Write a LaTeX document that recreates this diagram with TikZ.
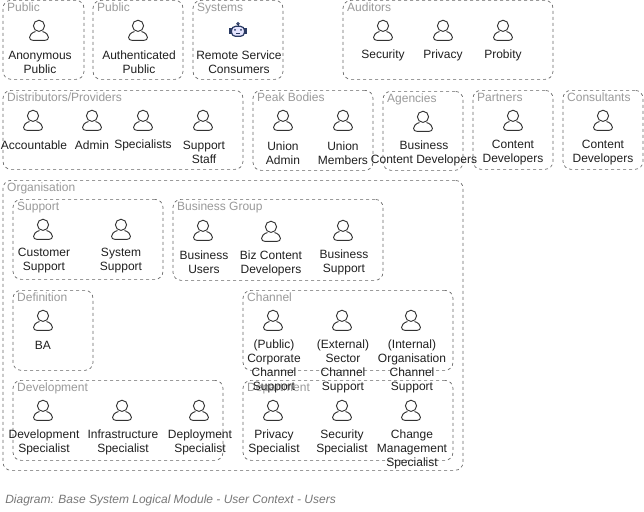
\documentclass[tikz,border=0pt]{standalone}
\usepackage{fontspec}
\setmainfont{Liberation Sans}
\usetikzlibrary{fit}
\definecolor{framegray}{HTML}{666666}
\definecolor{titlegray}{HTML}{999999}
\definecolor{captiongray}{HTML}{777777}
\definecolor{inkgray}{HTML}{333333}
\definecolor{botnavy}{HTML}{2A3A63}

\begin{document}
\begin{tikzpicture}[x=0.75pt, y=-0.75pt,
        group_box/.style 2 args={
                draw=framegray,
                dash pattern=on 2.25pt off 2.25pt,
                line width=0.5pt,
                rounded corners=6pt,
                inner sep=0pt,
                fit={#1},
                label={[anchor=north west, inner sep=0pt, xshift=3.2pt, yshift=-2.1pt, text=titlegray, font=\fontsize{9}{10.5}\selectfont]north west:{#2}}},
        user_text/.style = {
            align = center,
            inner sep=0pt,
            yshift=-0.5pt,
            text=inkgray!60!black,
            font = \fontsize{9}{10.5}\selectfont
        },
        pics/user_icon/.style = {code={
            \draw[inkgray, line width=0.7pt, fill=white] (0,-4.5) circle (5.6);
            \draw[inkgray, line width=0.7pt, line join=round] (-3.5,1.2)
                .. controls (-7,2.2) and (-9.5,4.5) .. (-9.5,7)
                .. controls (-9.5,9) and (-8,10) .. (-6,10) -- (6,10)
                .. controls (8,10) and (9.5,9) .. (9.5,7)
                .. controls (9.5,4.5) and (7,2.2) .. (3.5,1.2);
        }},
        pics/bot_icon/.style = {code={
            \draw[botnavy, line width=0.7pt] (0,-6) -- (0,-4);
            \draw[botnavy, line width=0.7pt, fill=white] (0,-6.5) circle (1.2);
            \fill[botnavy] (-9,-2) rectangle (-6,4);
            \fill[botnavy] (6,-2) rectangle (9,4);
            \draw[botnavy, line width=0.9pt, fill=white!90!blue, rounded corners=3pt] (-6.5,-4) rectangle (6.5,6);
            \fill[botnavy] (-3,-0.5) circle (1);
            \fill[botnavy] (3,-0.5) circle (1);
            \draw[botnavy, line width=0.6pt] (-2,3) -- (2,3);
        }}]

        % outer rows
        \node[group_box={(3,0)(84,79)}{Public}] (public_anon) {};
        \node[group_box={(93,0)(183,79)}{Public}] (public_auth) {};
        \node[group_box={(193,0)(283,79)}{Systems}] (systems) {};
        \node[group_box={(343,0)(553,79)}{Auditors}] (auditors) {};

        \node[group_box={(3,90)(243,169)}{Distributors/Providers}] (distributors) {};
        \node[group_box={(253,90)(373,170)}{Peak Bodies}] (peak_bodies) {};
        \node[group_box={(383,91)(463,170)}{Agencies}] (agencies) {};
        \node[group_box={(473,90)(553,169)}{Partners}] (partners) {};
        \node[group_box={(563,90)(643,169)}{Consultants}] (consultants) {};

        % organisation and its groups
        \node[group_box={(3,180)(463,470)}{Organisation}] (organisation) {};
        \node[group_box={(13,199)(163,279)}{Support}] (support) {};
        \node[group_box={(173,199)(383,280)}{Business Group}] (business_group) {};
        \node[group_box={(13,290)(93,370)}{Definition}] (definition) {};
        \node[group_box={(243,290)(453,370)}{Channel}] (channel) {};
        \node[group_box={(13,380)(223,460)}{Development}] (development) {};
        \node[group_box={(243,380)(453,460)}{Department}] (department) {};

        % users
        \pic (anon_icon) at (39,30) {user_icon};
        \node (anon) [user_text] at (40,61) {Anonymous\\Public};
        \pic (auth_icon) at (138,30) {user_icon};
        \node (auth) [user_text] at (139,61) {Authenticated\\Public};
        \pic (remote_icon) at (238,30) {bot_icon};
        \node (remote) [user_text] at (239,61) {Remote Service\\Consumers};
        \pic (security_icon) at (383,30) {user_icon};
        \node (security) [user_text] at (383,54) {Security};
        \pic (privacy_icon) at (443,30) {user_icon};
        \node (privacy) [user_text] at (443,54) {Privacy};
        \pic (probity_icon) at (503,30) {user_icon};
        \node (probity) [user_text] at (503,54) {Probity};

        \pic (account_icon) at (33,120) {user_icon};
        \node (account) [user_text] at (34,144) {Accountable};
        \pic (admin_icon) at (92,120) {user_icon};
        \node (admin) [user_text] at (92,144) {Admin};
        \pic (special_icon) at (143,120) {user_icon};
        \node (special) [user_text] at (143,144) {Specialists};
        \pic (staff_icon) at (203,120) {user_icon};
        \node (staff) [user_text] at (204,151) {Support\\Staff};

        \pic (union_admin_icon) at (283,120) {user_icon};
        \node (union_admin) [user_text] at (283,152) {Union\\Admin};
        \pic (union_members_icon) at (343,120) {user_icon};
        \node (union_members) [user_text] at (343,152) {Union\\Members};
        \pic (agency_icon) at (423,121) {user_icon};
        \node (agency) [user_text] at (424,152) {Business\\Content Developers};
        \pic (partner_icon) at (513,120) {user_icon};
        \node (partner) [user_text] at (513,152) {Content\\Developers};
        \pic (consultant_icon) at (603,120) {user_icon};
        \node (consultant) [user_text] at (603,152) {Content\\Developers};

        \pic (customer_icon) at (43,229) {user_icon};
        \node (customer) [user_text] at (44,260) {Customer\\Support};
        \pic (system_icon) at (121,229) {user_icon};
        \node (system) [user_text] at (121,260) {System\\Support};
        \pic (biz_users_icon) at (203,230) {user_icon};
        \node (biz_users) [user_text] at (204,261) {Business\\Users};
        \pic (biz_content_icon) at (271,231) {user_icon};
        \node (biz_content) [user_text] at (271,262) {Biz Content\\Developers};
        \pic (biz_support_icon) at (343,230) {user_icon};
        \node (biz_support) [user_text] at (344,261) {Business\\Support};

        \pic (ba_icon) at (43,320) {user_icon};
        \node (ba) [user_text] at (43,344) {BA};
        \pic (public_channel_icon) at (273,320) {user_icon};
        \node (public_channel) [user_text] at (274,365) {(Public)\\Corporate\\Channel\\Support};
        \pic (external_channel_icon) at (342,320) {user_icon};
        \node (external_channel) [user_text] at (343,365) {(External)\\Sector\\Channel\\Support};
        \pic (internal_channel_icon) at (411,320) {user_icon};
        \node (internal_channel) [user_text] at (412,365) {(Internal)\\Organisation\\Channel\\Support};

        \pic (dev_icon) at (43,410) {user_icon};
        \node (dev) [user_text] at (44,441) {Development\\Specialist};
        \pic (infra_icon) at (122,410) {user_icon};
        \node (infra) [user_text] at (123,441) {Infrastructure\\Specialist};
        \pic (deploy_icon) at (199,410) {user_icon};
        \node (deploy) [user_text] at (200,441) {Deployment\\Specialist};
        \pic (privacy_spec_icon) at (273,410) {user_icon};
        \node (privacy_spec) [user_text] at (274,441) {Privacy\\Specialist};
        \pic (security_spec_icon) at (342,410) {user_icon};
        \node (security_spec) [user_text] at (342,441) {Security\\Specialist};
        \pic (change_spec_icon) at (411,410) {user_icon};
        \node (change_spec) [user_text] at (412,448) {Change\\Management\\Specialist};

        \node (caption) [anchor=west, inner sep=0pt, text=captiongray, font=\fontsize{9}{10.5}\selectfont\itshape] at (5,500)
            {Diagram: Base System Logical Module - User Context - Users};

        \useasboundingbox (0,0) rectangle (644,511);
    \end{tikzpicture}
\end{document}
